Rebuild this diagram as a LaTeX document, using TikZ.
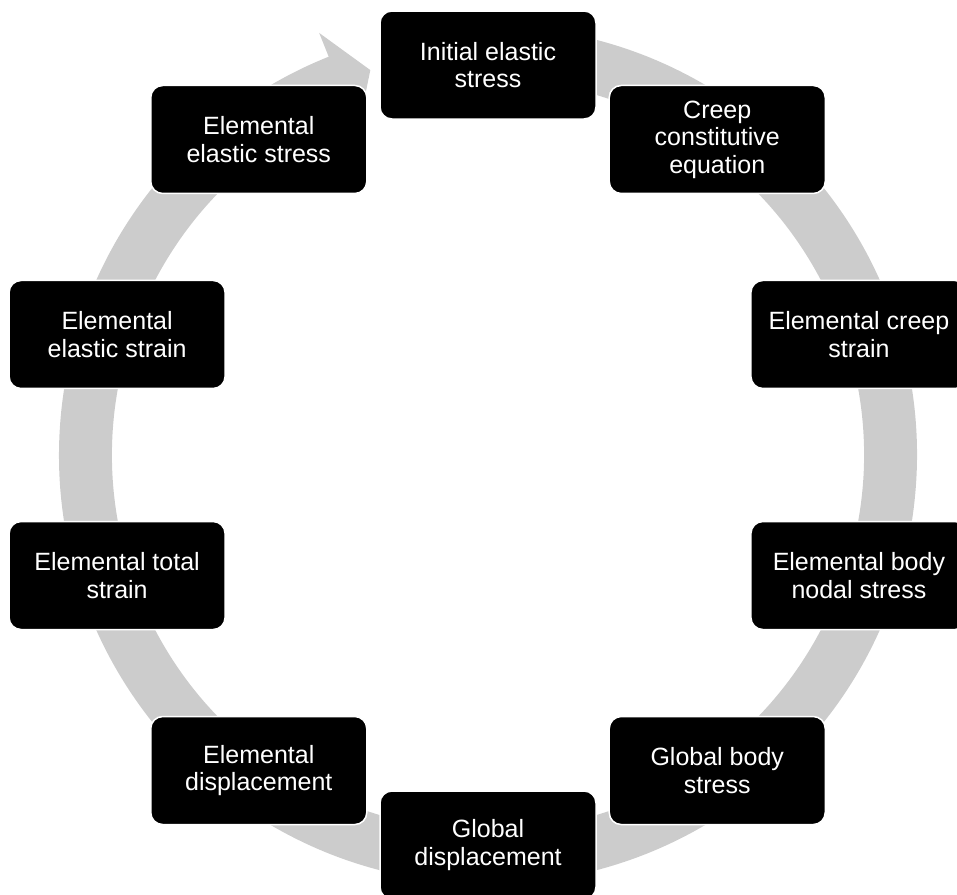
\documentclass[tikz,border=0pt]{standalone}
\usepackage{fontspec}
\setmainfont{Liberation Sans}
\usetikzlibrary{calc}
\definecolor{ringgray}{RGB}{204,204,204}
\begin{document}
\begin{tikzpicture}[x=1pt,y=1pt,
  cyclebox/.style={rectangle, rounded corners=12pt, fill=black, draw=white,
    line width=1.5pt, text=white, align=center, minimum width=216pt,
    minimum height=108pt, inner sep=0pt,
    font=\fontsize{25}{27.5}\selectfont}]
\useasboundingbox (0,0) rectangle (957,-894);
\coordinate (C) at (488,-455);
% circular arrow
\begin{scope}[shift={(C)}]
\fill[ringgray] (85:429pt) arc[start angle=85, end angle=-248.2, radius=429pt]
  -- (-248.2:454.6pt) -- (-253:402.5pt) -- (-248.2:350pt) -- (-248.2:376pt)
  arc[start angle=-248.2, end angle=85, radius=376pt] -- cycle;
\end{scope}
% nodes
\node[cyclebox] (n0) at ($(C)+(90:390pt)$) {Initial elastic\\stress};
\node[cyclebox] (n1) at ($(C)+(54:390pt)$) {Creep\\constitutive\\equation};
\node[cyclebox] (n2) at ($(C)+(18:390pt)$) {Elemental creep\\strain};
\node[cyclebox] (n3) at ($(C)+(-18:390pt)$) {Elemental body\\nodal stress};
\node[cyclebox] (n4) at ($(C)+(-54:390pt)$) {Global body\\stress};
\node[cyclebox] (n5) at ($(C)+(-90:390pt)$) {Global\\displacement};
\node[cyclebox] (n6) at ($(C)+(-126:390pt)$) {Elemental\\displacement};
\node[cyclebox] (n7) at ($(C)+(-162:390pt)$) {Elemental total\\strain};
\node[cyclebox] (n8) at ($(C)+(162:390pt)$) {Elemental\\elastic strain};
\node[cyclebox] (n9) at ($(C)+(126:390pt)$) {Elemental\\elastic stress};
\end{tikzpicture}
\end{document}
